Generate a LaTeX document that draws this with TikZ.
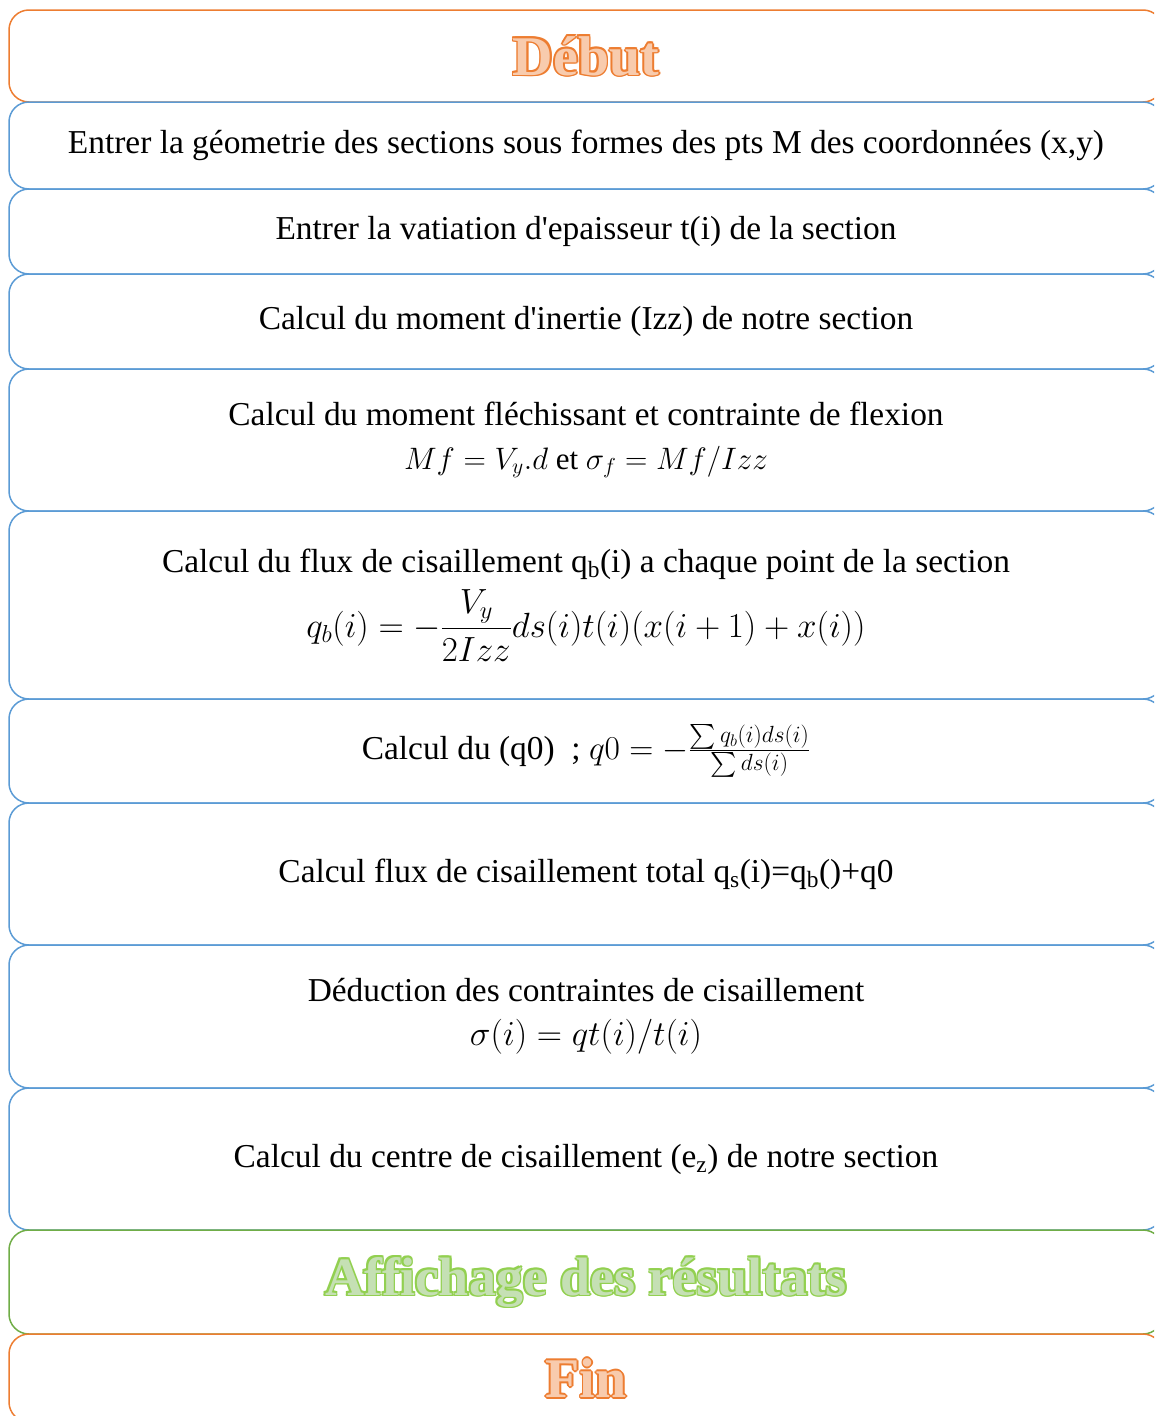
\RequirePackage{fix-cm}
\documentclass[tikz,border=0pt]{standalone}
\usepackage{amsmath}
\usepackage{fontspec}
\setmainfont{Liberation Serif}
\usetikzlibrary{positioning}
\definecolor{Orange}{HTML}{ED7D31}
\definecolor{OrangeLight}{HTML}{F8CBAD}
\definecolor{Blue}{HTML}{5B9BD5}
\definecolor{Green}{HTML}{70AD47}
\definecolor{GreenEdge}{HTML}{92D050}
\definecolor{GreenLight}{HTML}{C5E0B4}
% outlined title text: edge colour, fill colour, text
\newcommand{\ringcopy}[4]{\rlap{\kern#1\raisebox{#2}{\color{#3}#4}}}
\newcommand{\ringtext}[3]{\leavevmode
  \ringcopy{1.7pt}{0pt}{#1}{#3}\ringcopy{-1.7pt}{0pt}{#1}{#3}%
  \ringcopy{0pt}{1.7pt}{#1}{#3}\ringcopy{0pt}{-1.7pt}{#1}{#3}%
  \ringcopy{1.2pt}{1.2pt}{#1}{#3}\ringcopy{-1.2pt}{1.2pt}{#1}{#3}%
  \ringcopy{1.2pt}{-1.2pt}{#1}{#3}\ringcopy{-1.2pt}{-1.2pt}{#1}{#3}%
  {\color{#2}#3}}
% math line at its own size
\newcommand{\eqsize}[2]{{\fontsize{#1}{#1}\selectfont #2}}
\tikzset{
  stepbox/.style={draw=#1,line width=1.5pt,rounded corners=20pt,
    minimum width=1154pt,inner sep=4pt,outer sep=0pt,align=center,
    font=\fontsize{33.4}{40}\selectfont},
  headbox/.style={stepbox=#1,font=\fontsize{56}{60}\selectfont\bfseries},
}
\begin{document}
\begin{tikzpicture}[x=1pt,y=-1pt]
  \useasboundingbox (0,0) rectangle (1154,1416);
  \clip (0,0) rectangle (1154,1416);
  \node[headbox=Orange,minimum height=92pt] (debut) at (586,56)
        {\ringtext{Orange}{OrangeLight}{Début}};
  \node[stepbox=Blue,minimum height=87pt,below=0pt of debut] (geom)
        {Entrer la géometrie des sections sous formes des pts M des coordonnées (x,y)};
  \node[stepbox=Blue,minimum height=85pt,below=0pt of geom] (epais)
        {Entrer la vatiation d\textquotesingle epaisseur t(i) de la section};
  \node[stepbox=Blue,minimum height=95pt,below=0pt of epais] (inertie)
        {Calcul du moment d\textquotesingle inertie (Izz) de notre section};
  \node[stepbox=Blue,minimum height=142pt,below=0pt of inertie] (flexion)
        {Calcul du moment fléchissant et contrainte de flexion\\[4pt]
         \eqsize{31}{$Mf = V_y.d$ et $\sigma_f = Mf/Izz$}};
  \node[stepbox=Blue,minimum height=188pt,below=0pt of flexion] (fluxb)
        {Calcul du flux de cisaillement q\textsubscript{b}(i) a chaque point de la section\\[9pt]
         \eqsize{35}{$\displaystyle q_b(i) = -\frac{V_y}{2Izz}ds(i)t(i)(x(i+1)+x(i))$}};
  \node[stepbox=Blue,minimum height=104pt,below=0pt of fluxb] (qzero)
        {Calcul du (q0)~ ; $q0 = -\frac{\sum q_b(i)ds(i)}{\sum ds(i)}$};
  \node[stepbox=Blue,minimum height=142pt,below=0pt of qzero] (total)
        {Calcul flux de cisaillement total q\textsubscript{s}(i)=q\textsubscript{b}()+q0};
  \node[stepbox=Blue,minimum height=143pt,below=0pt of total] (deduc)
        {Déduction des contraintes de cisaillement\\[4pt]
         \eqsize{35}{$\sigma(i) = qt(i)/t(i)$}};
  \node[stepbox=Blue,minimum height=142pt,below=0pt of deduc] (centre)
        {Calcul du centre de cisaillement (e\textsubscript{z}) de notre section};
  \node[headbox=Green,minimum height=104pt,below=0pt of centre,
        font=\fontsize{54}{60}\selectfont\bfseries] (affich)
        {\ringtext{GreenEdge}{GreenLight}{Affichage des résultats}};
  \node[headbox=Orange,minimum height=88pt,below=0pt of affich] (fin)
        {\ringtext{Orange}{OrangeLight}{Fin}};
\end{tikzpicture}
\end{document}
